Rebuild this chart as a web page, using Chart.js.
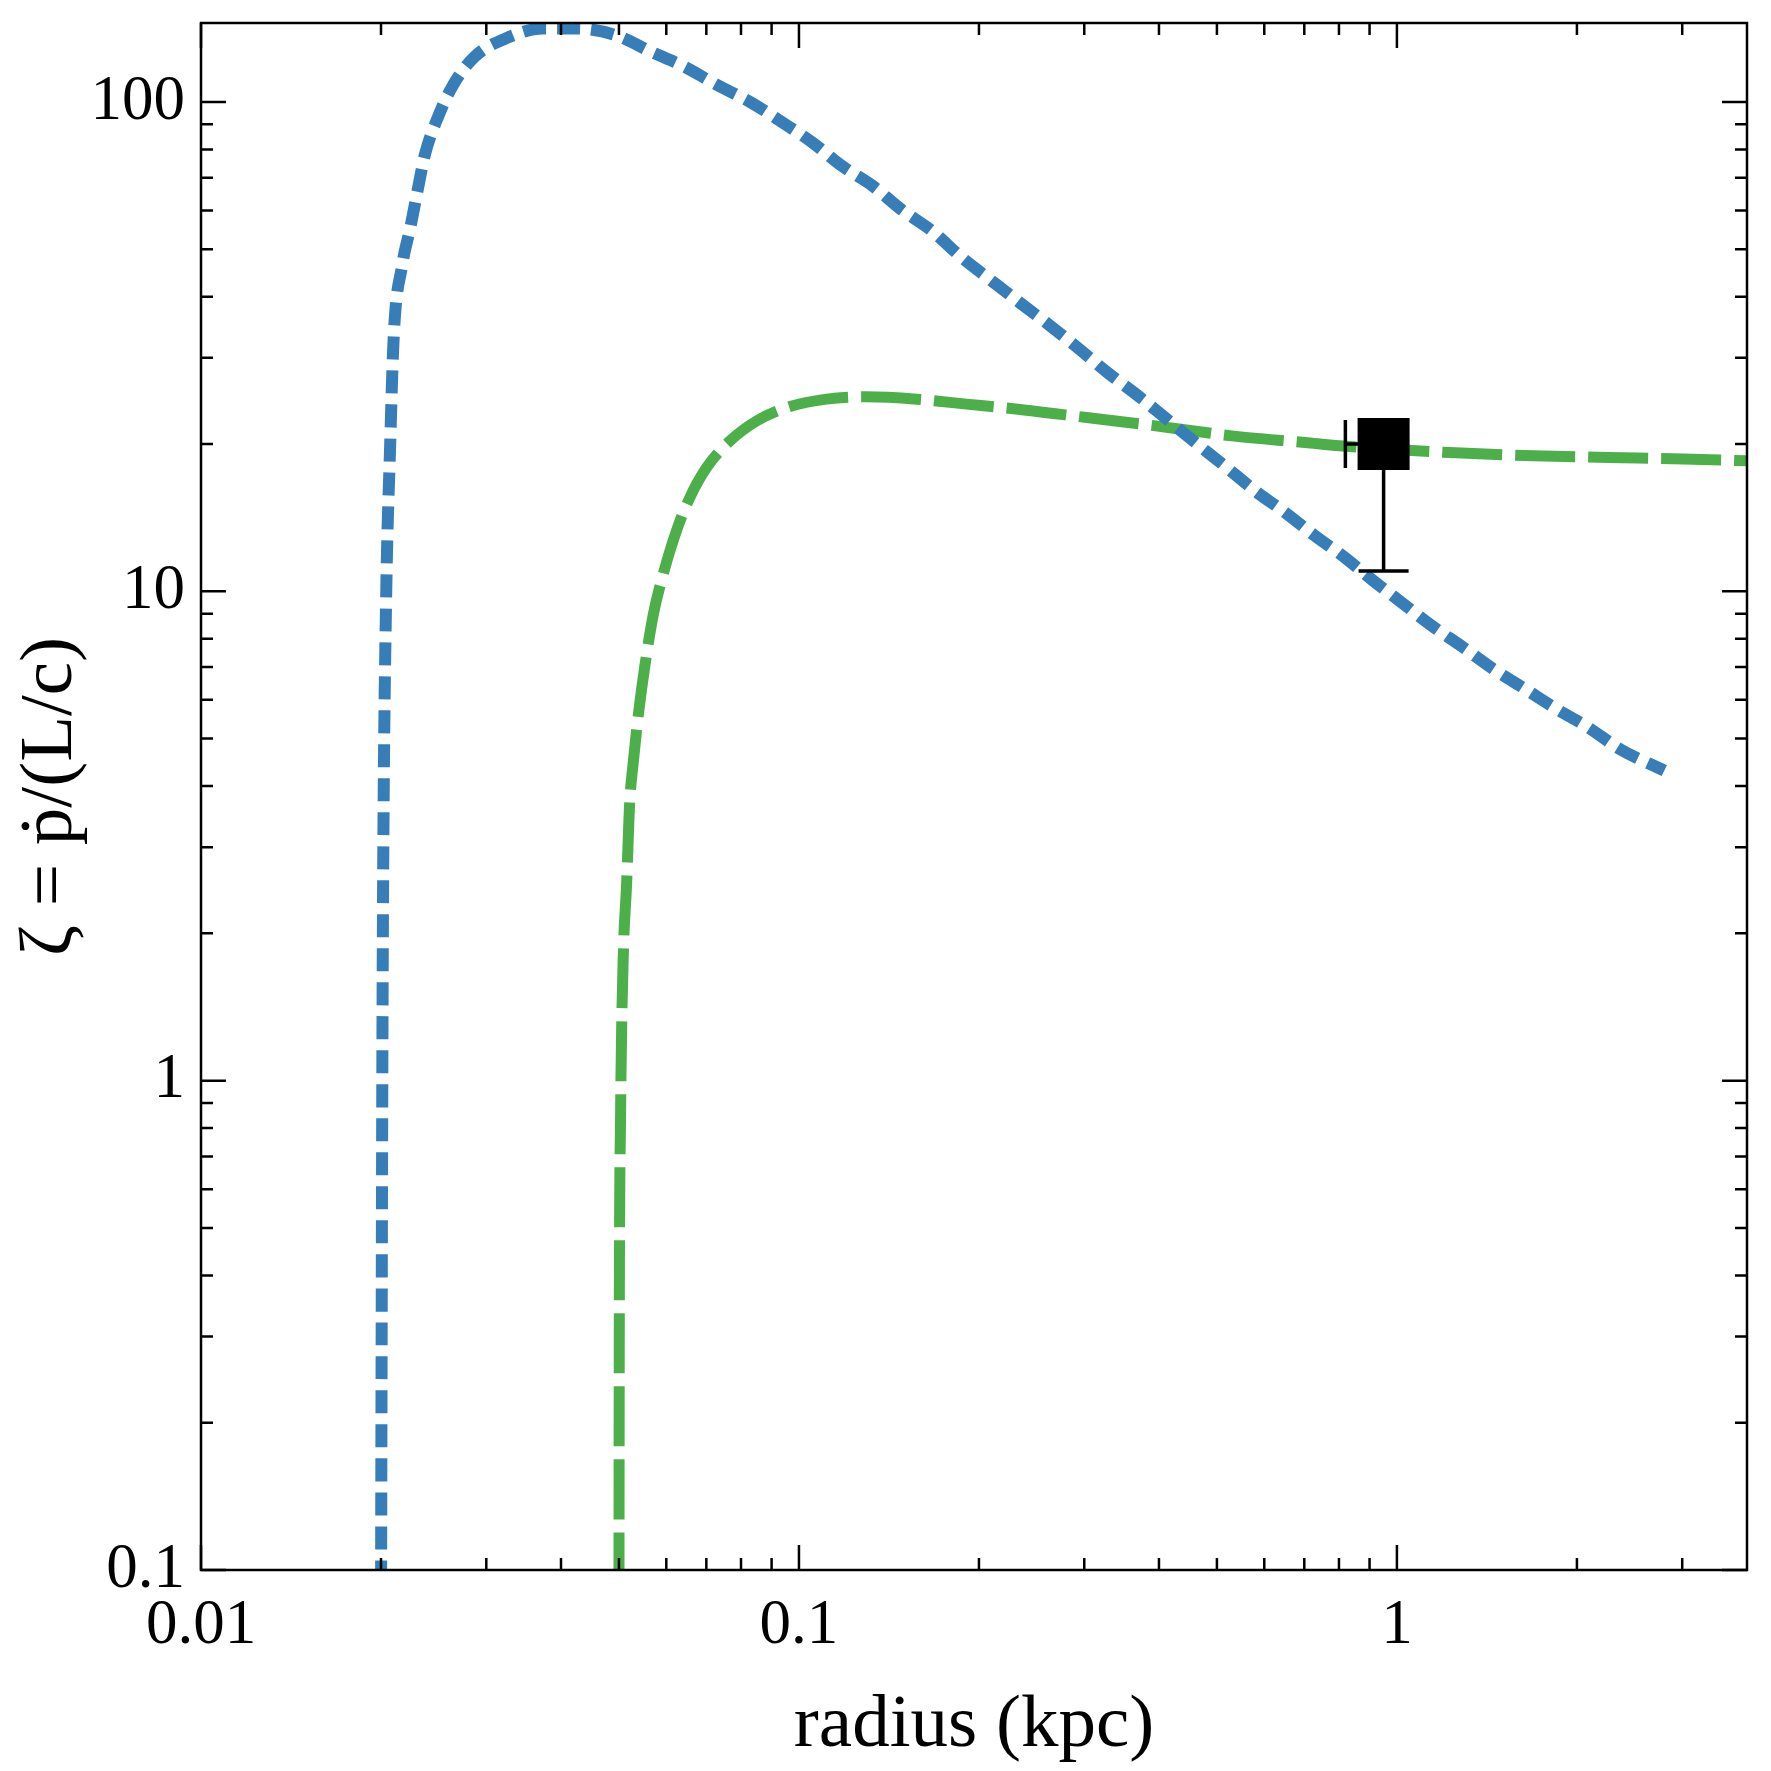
<!DOCTYPE html>
<html>
<head>
<meta charset="utf-8">
<script src="https://cdn.jsdelivr.net/npm/chart.js@4"></script>
<style>
  html, body { margin: 0; padding: 0; background: #fff; }
</style>
</head>
<body>
<canvas id="myChart" width="1771" height="1771"></canvas>
<script>
// blue short-dashed curve
const blueR = [0.0200, 0.02005, 0.0201, 0.02018, 0.0204, 0.0207, 0.0210, 0.0217, 0.0224, 0.0230, 0.0237, 0.0248,
  0.0264, 0.0287, 0.0326, 0.0373, 0.0425, 0.0496, 0.0563, 0.064, 0.073, 0.083, 0.094, 0.1055, 0.118, 0.133,
  0.148, 0.167, 0.186, 0.208, 0.234, 0.263, 0.294, 0.328, 0.369, 0.412, 0.461, 0.515, 0.579, 0.650, 0.729,
  0.818, 0.913, 1.018, 1.143, 1.291, 1.449, 1.637, 1.849, 2.089, 2.36, 2.80];
const blueZeta = [0.08, 0.3, 1.0, 3.0, 9.7, 19.2, 33.0, 46.4, 55.5, 65.5, 78.3, 92.0,
  108.3, 123.8, 135.4, 141.3, 141.3, 136.7, 127.0, 118.4, 108.3, 99.9, 90.7, 82.5, 74.0, 67.3,
  60.4, 54.5, 48.4, 43.5, 38.9, 34.9, 31.3, 28.0, 25.1, 22.5, 20.1, 18.05, 16.05, 14.49, 12.99,
  11.73, 10.51, 9.49, 8.51, 7.68, 6.94, 6.32, 5.75, 5.27, 4.76, 4.30];

// green long-dashed curve
const greenR = [0.0500, 0.05006, 0.0503, 0.0508, 0.0515, 0.0521, 0.0528, 0.0539, 0.0553, 0.0571, 0.0593,
  0.0624, 0.0657, 0.0701, 0.0767, 0.085, 0.0954, 0.1112, 0.1298, 0.1573, 0.1907, 0.2323, 0.3029, 0.395,
  0.530, 0.702, 0.801, 1.226, 1.69, 2.256, 3.01, 3.85];
const greenZeta = [0.09, 0.302, 0.822, 1.736, 2.53, 3.68, 4.44, 5.62, 7.10, 8.99, 10.85,
  13.30, 15.55, 17.91, 20.3, 22.3, 23.74, 24.70, 24.97, 24.70, 24.13, 23.56, 22.65, 21.78,
  20.78, 20.14, 19.83, 19.21, 18.92, 18.77, 18.63, 18.48];

// observed point with lower error bars
const obsR = [0.95];
const obsZeta = [20];
const obsRLow = [0.82];
const obsZetaLow = [11];

const xTickLabels = ['0.01', '0.1', '1'];
const yTickLabels = ['0.1', '1', '10', '100'];

const serif = "'Liberation Serif', 'Times New Roman', serif";

function logTicks(min, max) {
  const out = [];
  for (let e = Math.floor(Math.log10(min)); e <= Math.ceil(Math.log10(max)); e++) {
    for (let m = 1; m <= 9; m++) {
      const v = m * Math.pow(10, e);
      if (v >= min * 0.999 && v <= max * 1.001) out.push({ value: v, major: m === 1 });
    }
  }
  return out;
}

function pickLabel(list, v) {
  const s = list.find((l) => Math.abs(parseFloat(l) - v) < v * 1e-6);
  return s || '';
}

// inward ticks on all four sides plus the frame
const frameTicks = {
  id: 'frameTicks',
  afterDraw(chart) {
    const { ctx, chartArea: a, scales: { x, y } } = chart;
    ctx.save();
    ctx.strokeStyle = '#000';
    ctx.lineWidth = 2.5;
    ctx.beginPath();
    x.ticks.forEach((t) => {
      const px = x.getPixelForValue(t.value);
      const len = t.major ? 25 : 12;
      ctx.moveTo(px, a.bottom); ctx.lineTo(px, a.bottom - len);
      ctx.moveTo(px, a.top); ctx.lineTo(px, a.top + len);
    });
    y.ticks.forEach((t) => {
      const py = y.getPixelForValue(t.value);
      const len = t.major ? 25 : 12;
      ctx.moveTo(a.left, py); ctx.lineTo(a.left + len, py);
      ctx.moveTo(a.right, py); ctx.lineTo(a.right - len, py);
    });
    ctx.stroke();
    ctx.strokeRect(a.left, a.top, a.right - a.left, a.bottom - a.top);
    ctx.restore();
  }
};

// error bars and square marker for the observed point (dataset 0)
const errorBars = {
  id: 'errorBars',
  afterDatasetsDraw(chart) {
    const { ctx, scales: { x, y } } = chart;
    const meta = chart.getDatasetMeta(0);
    ctx.save();
    ctx.strokeStyle = '#000';
    ctx.fillStyle = '#000';
    ctx.lineWidth = 3.5;
    meta.data.forEach((pt, i) => {
      const px = pt.x;
      const py = pt.y;
      const pxLow = x.getPixelForValue(obsRLow[i]);
      const pyLow = y.getPixelForValue(obsZetaLow[i]);
      ctx.beginPath();
      ctx.moveTo(px, py); ctx.lineTo(pxLow, py);
      ctx.moveTo(pxLow, py - 24); ctx.lineTo(pxLow, py + 24);
      ctx.moveTo(px, py); ctx.lineTo(px, pyLow);
      ctx.moveTo(px - 25, pyLow); ctx.lineTo(px + 25, pyLow);
      ctx.stroke();
      ctx.fillRect(px - 26, py - 26, 52, 52);
    });
    ctx.restore();
  }
};

const ctx = document.getElementById('myChart').getContext('2d');

new Chart(ctx, {
  type: 'scatter',
  data: {
    datasets: [
      {
        label: 'observed',
        data: obsR.map((r, i) => ({ x: r, y: obsZeta[i] })),
        pointRadius: 0,
        showLine: false,
      },
      {
        label: 'blue',
        data: blueR.map((r, i) => ({ x: r, y: blueZeta[i] })),
        showLine: true,
        borderColor: '#377eb8',
        borderWidth: 12,
        borderDash: [23, 11],
        pointRadius: 0,
        cubicInterpolationMode: 'monotone',
        clip: 0,
      },
      {
        label: 'green',
        data: greenR.map((r, i) => ({ x: r, y: greenZeta[i] })),
        showLine: true,
        borderColor: '#4daf4a',
        borderWidth: 11,
        borderDash: [60, 13],
        pointRadius: 0,
        cubicInterpolationMode: 'monotone',
        clip: 0,
      },
    ],
  },
  options: {
    responsive: false,
    animation: false,
    layout: { padding: { left: 0, top: 23, right: 24, bottom: 0 } },
    plugins: {
      legend: { display: false },
      tooltip: { enabled: false },
    },
    scales: {
      x: {
        type: 'logarithmic',
        min: 0.01,
        max: 3.85,
        afterBuildTicks: (scale) => { scale.ticks = logTicks(0.01, 3.85); },
        afterFit: (scale) => {
          scale.height = 201;
          scale.paddingLeft = 0;
          scale.paddingRight = 0;
        },
        grid: { display: false, drawTicks: false },
        border: { display: false },
        ticks: {
          autoSkip: false,
          maxRotation: 0,
          padding: 19,
          color: '#000',
          font: { family: serif, size: 63 },
          callback: (v) => pickLabel(xTickLabels, v),
        },
        title: {
          display: true,
          text: 'radius (kpc)',
          color: '#000',
          font: { family: serif, size: 75 },
          padding: { top: 0, bottom: 0 },
        },
      },
      y: {
        type: 'logarithmic',
        min: 0.1,
        max: 145,
        afterBuildTicks: (scale) => { scale.ticks = logTicks(0.1, 145); },
        afterFit: (scale) => {
          scale.width = 201;
          scale.paddingTop = 0;
          scale.paddingBottom = 0;
        },
        grid: { display: false, drawTicks: false },
        border: { display: false },
        ticks: {
          autoSkip: false,
          padding: 16,
          color: '#000',
          font: { family: serif, size: 63 },
          callback: (v) => pickLabel(yTickLabels, v),
        },
        title: {
          display: true,
          text: 'ζ = ṗ/(L/c)',
          color: '#000',
          font: { family: serif, size: 75 },
          padding: { top: 6, bottom: 0 },
        },
      },
    },
  },
  plugins: [frameTicks, errorBars],
});
</script>
</body>
</html>
